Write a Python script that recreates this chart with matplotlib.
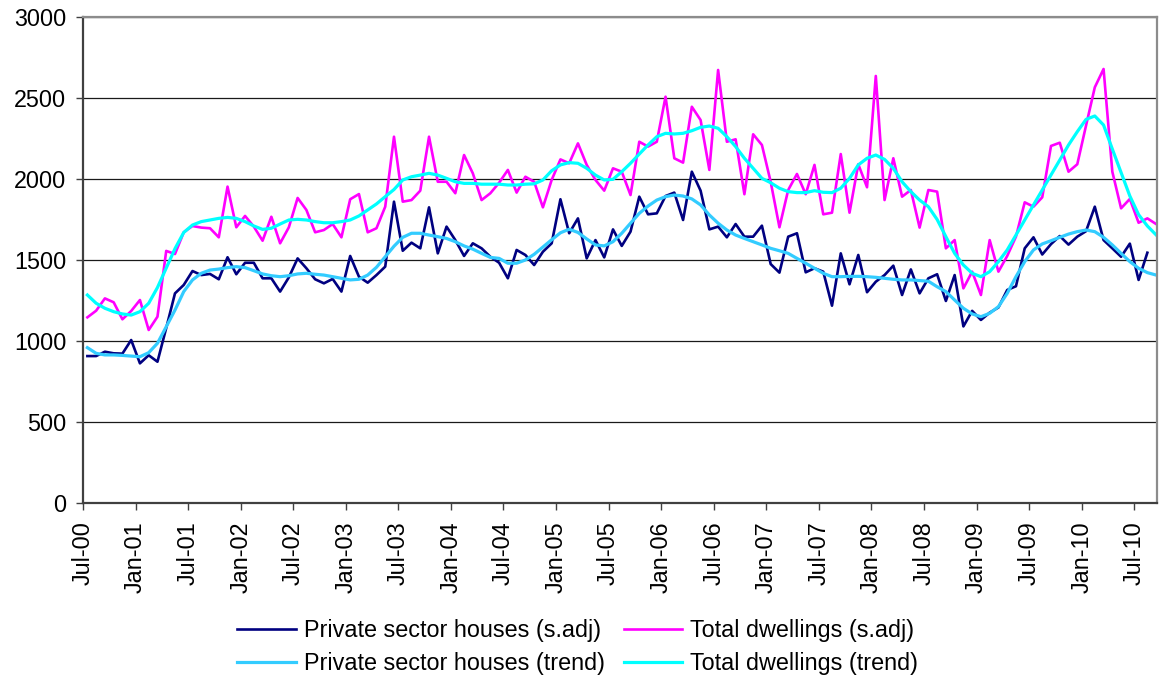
import matplotlib
matplotlib.use("Agg")
import matplotlib.pyplot as plt
import numpy as np

plt.rcParams['font.family'] = ['Liberation Sans', 'DejaVu Sans']

# monthly data, Jul-00 .. Sep-10
private_sadj = [907, 907, 934, 924, 922, 1006, 862, 912, 872, 1080, 1294, 1346,
                1432, 1407, 1414, 1381, 1517, 1412, 1483, 1483, 1387, 1387, 1305, 1393,
                1510, 1449, 1381, 1356, 1383, 1305, 1525, 1397, 1360, 1407, 1459, 1860,
                1557, 1607, 1572, 1825, 1541, 1706, 1623, 1525, 1603, 1572, 1520, 1483,
                1387, 1562, 1531, 1469, 1551, 1603, 1875, 1665, 1757, 1510, 1623, 1516,
                1689, 1587, 1675, 1891, 1782, 1788, 1895, 1916, 1747, 2045, 1928, 1689,
                1706, 1640, 1722, 1644, 1644, 1712, 1475, 1422, 1644, 1665, 1424, 1449,
                1428, 1218, 1541, 1350, 1531, 1301, 1366, 1407, 1465, 1284, 1442, 1294,
                1387, 1412, 1247, 1407, 1090, 1186, 1130, 1175, 1207, 1315, 1338, 1572,
                1640, 1534, 1598, 1648, 1595, 1644, 1678, 1829, 1623, 1572, 1520, 1601,
                1377, 1545]

total_sadj = [1146, 1187, 1263, 1239, 1134, 1185, 1253, 1068, 1150, 1556, 1537, 1671,
              1710, 1700, 1696, 1640, 1953, 1702, 1772, 1706, 1619, 1767, 1603, 1702,
              1883, 1809, 1671, 1685, 1722, 1640, 1875, 1907, 1671, 1696, 1829, 2261,
              1860, 1870, 1928, 2261, 1983, 1983, 1912, 2148, 2035, 1870, 1912, 1977,
              2056, 1916, 2014, 1983, 1825, 1994, 2121, 2097, 2220, 2087, 1994, 1928,
              2066, 2045, 1901, 2230, 2200, 2230, 2508, 2128, 2101, 2446, 2364, 2056,
              2673, 2230, 2245, 1906, 2276, 2210, 1983, 1702, 1932, 2031, 1906, 2087,
              1782, 1792, 2154, 1792, 2091, 1949, 2636, 1870, 2128, 1891, 1932, 1700,
              1932, 1922, 1572, 1623, 1325, 1428, 1284, 1623, 1428, 1525, 1644, 1856,
              1829, 1887, 2204, 2224, 2045, 2091, 2330, 2566, 2679, 2045, 1819, 1877,
              1730, 1757, 1722]

private_trend = [959, 924, 914, 914, 911, 907, 903, 928, 986, 1088, 1191, 1305,
                 1377, 1418, 1438, 1444, 1453, 1459, 1453, 1434, 1414, 1403, 1397, 1403,
                 1414, 1418, 1412, 1407, 1397, 1387, 1377, 1381, 1407, 1455, 1520, 1585,
                 1640, 1665, 1665, 1654, 1644, 1633, 1613, 1587, 1567, 1541, 1516, 1510,
                 1480, 1480, 1500, 1535, 1580, 1625, 1668, 1690, 1670, 1630, 1593, 1587,
                 1613, 1665, 1727, 1788, 1833, 1870, 1891, 1901, 1895, 1877, 1840, 1778,
                 1727, 1685, 1654, 1633, 1613, 1593, 1572, 1557, 1541, 1510, 1480, 1449,
                 1418, 1397, 1397, 1399, 1399, 1397, 1393, 1387, 1381, 1377, 1377, 1373,
                 1369, 1335, 1305, 1253, 1202, 1167, 1150, 1171, 1212, 1294, 1397, 1490,
                 1562, 1599, 1619, 1640, 1660, 1675, 1685, 1675, 1640, 1593, 1541, 1490,
                 1449, 1422, 1407]

total_trend = [1284, 1233, 1202, 1181, 1167, 1160, 1181, 1233, 1330, 1450, 1570, 1670,
               1716, 1737, 1747, 1757, 1763, 1757, 1737, 1710, 1689, 1696, 1722, 1747,
               1751, 1747, 1737, 1730, 1730, 1737, 1747, 1772, 1809, 1846, 1891, 1935,
               1994, 2014, 2024, 2035, 2024, 2004, 1983, 1973, 1973, 1968, 1968, 1968,
               1963, 1963, 1968, 1970, 1994, 2051, 2087, 2101, 2097, 2066, 2024, 1994,
               1998, 2045, 2097, 2154, 2210, 2261, 2282, 2278, 2282, 2298, 2319, 2327,
               2313, 2261, 2200, 2128, 2066, 2004, 1977, 1943, 1922, 1916, 1916, 1928,
               1918, 1916, 1943, 2004, 2087, 2128, 2148, 2121, 2066, 1983, 1922, 1870,
               1829, 1750, 1644, 1541, 1469, 1418, 1397, 1428, 1490, 1562, 1654, 1747,
               1840, 1932, 2025, 2117, 2210, 2292, 2368, 2389, 2333, 2185, 2040, 1895,
               1780, 1710, 1655]

tick_labels = ['Jul-00', 'Jan-01', 'Jul-01', 'Jan-02', 'Jul-02', 'Jan-03', 'Jul-03',
               'Jan-04', 'Jul-04', 'Jan-05', 'Jul-05', 'Jan-06', 'Jul-06', 'Jan-07',
               'Jul-07', 'Jan-08', 'Jul-08', 'Jan-09', 'Jul-09', 'Jan-10', 'Jul-10']

fs = 16.8
fig = plt.figure(figsize=(11.6, 6.79), dpi=100)
ax = fig.add_axes([83/1160, 1-503/679, (1157-83)/1160, (503-17)/679])

xp = np.arange(len(private_sadj)) + 0.5
xt = np.arange(len(total_sadj)) + 0.5

l1, = ax.plot(xp, private_sadj, color='#000080', lw=1.9, label='Private sector houses (s.adj)')
l3, = ax.plot(xt, total_sadj, color='#FF00FF', lw=1.9, label='Total dwellings (s.adj)')
l2, = ax.plot(xt, private_trend, color='#33CCFF', lw=2.3, label='Private sector houses (trend)')
l4, = ax.plot(xt, total_trend, color='#00FFFF', lw=2.3, label='Total dwellings (trend)')

ax.set_xlim(0, 122.6)
ax.set_ylim(0, 3000)
ax.set_yticks(range(0, 3001, 500))
ax.set_xticks(np.arange(0, 121, 6))
ax.set_xticklabels(tick_labels, rotation=90, fontsize=fs)
ax.tick_params(axis='y', labelsize=fs, length=5, width=1, pad=7, color='#404040')
ax.tick_params(axis='x', length=5, width=1, pad=8, color='#404040')
ax.yaxis.grid(True, color='#1a1a1a', lw=0.9)
ax.set_axisbelow(True)

for s in ['left', 'bottom']:
    ax.spines[s].set_color('#404040')
    ax.spines[s].set_linewidth(1.6)
for s in ['top', 'right']:
    ax.spines[s].set_color('#8c8c8c')
    ax.spines[s].set_linewidth(1.6)

fig.legend(handles=[l1, l2, l3, l4], loc='center', bbox_to_anchor=(0.498, 1-647/679),
           ncol=2, frameon=False, fontsize=fs, handlelength=2.5, handletextpad=0.35,
           columnspacing=0.8, labelspacing=0.4)

fig.savefig('out.png', dpi=100)
